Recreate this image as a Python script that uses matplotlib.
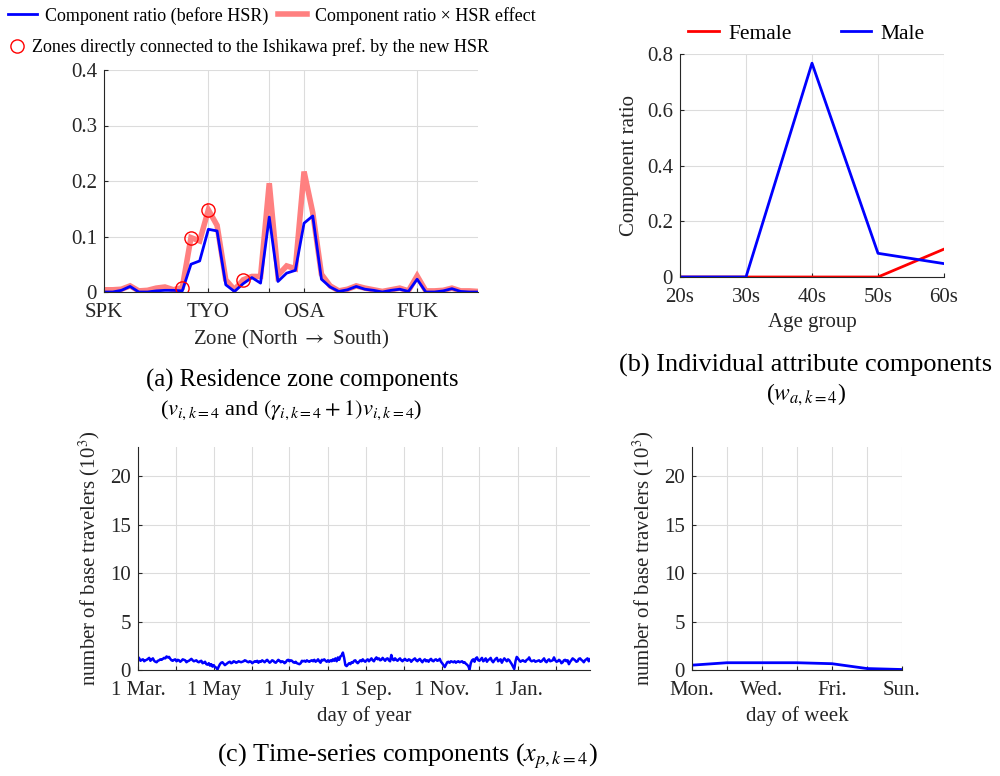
import numpy as np
import matplotlib
matplotlib.use("Agg")
import matplotlib.pyplot as plt
from matplotlib.lines import Line2D

plt.rcParams["font.family"] = ["Liberation Serif", "DejaVu Serif"]
plt.rcParams["mathtext.fontset"] = "stix"
plt.rcParams["font.size"] = 15

TEXT = "#262626"
GRID = "#dcdcdc"
BLUE = "#0000ff"
PINK = "#ff8080"
RED = "#ff0000"
FS = 15
LEG_FS = 13

# (a) residence zone components, 44 zones north -> south
zone_ticks = [1, 13, 20, 24, 37]
zone_labels = ["SPK", "TYO", "", "OSA", "FUK"]
ratio_before = [0.0, 0.0, 0.003, 0.010, 0.0, 0.0, 0.002, 0.003, 0.003, 0.002,
                0.050, 0.056, 0.113, 0.110, 0.013, 0.001, 0.015, 0.026, 0.016, 0.135,
                0.019, 0.034, 0.039, 0.124, 0.137, 0.023, 0.009, 0.001, 0.004, 0.010,
                0.005, 0.003, 0.0, 0.003, 0.005, 0.001, 0.023, 0.0, 0.0, 0.002,
                0.006, 0.001, 0.0, 0.0]
ratio_hsr = [0.004, 0.004, 0.005, 0.011, 0.002, 0.003, 0.007, 0.009, 0.004, 0.008,
             0.098, 0.092, 0.148, 0.120, 0.022, 0.004, 0.022, 0.028, 0.028, 0.196,
             0.030, 0.047, 0.042, 0.217, 0.143, 0.032, 0.011, 0.002, 0.005, 0.011,
             0.007, 0.004, 0.001, 0.004, 0.007, 0.002, 0.029, 0.002, 0.002, 0.003,
             0.007, 0.002, 0.002, 0.001]
connected_zones = [10, 11, 13, 17]

# (b) individual attribute components
age_groups = ["20s", "30s", "40s", "50s", "60s"]
female = [0.0, 0.0, 0.0, 0.0, 0.100]
male = [0.0, 0.0, 0.767, 0.085, 0.048]

# (c) time-series components, daily from 1 Mar (thousands)
daily = [
    1.35, 1.2, 0.95, 1.05, 1.1, 0.9, 1.0,
    1.05, 1.15, 1.25, 0.95, 1.1, 1.2, 0.95,
    0.85, 0.8, 0.95, 1.0, 1.1, 1.05, 1.15,
    1.25, 1.2, 1.4, 1.3, 1.35, 1.15, 1.0,
    0.95, 1.05, 1.1, 0.9, 1.05, 1.0, 0.85,
    0.95, 1.1, 1.05, 1.0, 0.8, 0.9, 0.95,
    1.05, 1.15, 1.0, 0.9, 0.95, 1.0, 0.85,
    0.8, 0.9, 0.95, 0.7, 0.75, 0.85, 0.6,
    0.55, 0.7, 0.45, 0.6, 0.35, 0.5, 0.3,
    0.25, 0.05, 0.35, 0.6, 0.75, 0.8, 0.65,
    0.5, 0.6, 0.7, 0.8, 0.85, 0.7, 0.75,
    0.9, 0.85, 0.75, 0.8, 0.9, 0.85, 0.8,
    0.85, 0.9, 1.0, 0.95, 0.85, 0.8, 0.9,
    0.85, 0.7, 0.8, 0.9, 0.85, 0.95, 0.75,
    0.9, 0.85, 1.0, 0.9, 0.8, 0.95, 1.05,
    0.9, 0.75, 0.85, 1.0, 0.95, 0.8, 0.75,
    0.9, 1.05, 0.95, 0.8, 0.9, 0.85, 0.7,
    0.8, 1.0, 1.05, 0.9, 1.0, 0.95, 0.8,
    0.75, 0.85, 0.7, 0.65, 0.6, 0.7, 0.95,
    0.9, 0.95, 0.85, 1.0, 0.9, 0.85, 0.95,
    1.0, 0.9, 1.05, 0.85, 0.95, 1.1, 0.9,
    0.75, 1.05, 1.0, 1.1, 0.95, 0.85, 1.0,
    0.85, 1.0, 0.9, 1.1, 0.95, 1.2, 0.9,
    1.3, 1.05, 1.4, 1.5, 1.8, 1.25, 0.5,
    0.4, 0.55, 0.7, 0.6, 0.8, 0.75, 0.95,
    1.0, 0.8, 0.7, 0.85, 1.0, 0.9, 1.1,
    0.95, 0.85, 1.0, 1.1, 0.9, 1.05, 1.2,
    1.0, 0.9, 1.15, 1.3, 1.1, 1.2, 1.0,
    1.05, 1.25, 1.1, 0.95, 1.15, 1.2, 1.0,
    0.9, 1.55, 1.1, 1.0, 1.2, 1.05, 0.95,
    1.1, 1.2, 1.0, 0.9, 1.05, 1.15, 1.0,
    0.95, 1.1, 1.05, 0.85, 1.0, 1.1, 1.2,
    1.0, 0.9, 1.05, 1.15, 0.95, 0.8, 1.0,
    1.1, 0.9, 1.0, 0.85, 1.05, 1.15, 0.95,
    0.9, 1.05, 1.1, 0.95, 1.0, 1.15, 0.85,
    0.7, 0.5, 0.3, 0.55, 0.8, 0.85, 0.75,
    0.9, 0.85, 0.8, 0.9, 0.75, 0.85, 0.9,
    0.8, 0.85, 0.9, 0.75, 0.8, 0.65, 0.55,
    0.4, 0.05, 0.7, 1.0, 1.1, 0.85, 1.2,
    1.3, 1.0, 0.95, 1.1, 1.25, 0.9, 1.0,
    1.2, 0.85, 1.05, 1.1, 1.25, 0.95, 0.8,
    1.0, 1.15, 1.25, 0.9, 1.0, 1.1, 0.75,
    1.0, 1.2, 1.05, 0.9, 1.1, 1.0, 0.8,
    0.6, 0.35, 0.1, 0.9, 1.35, 1.2, 1.0,
    0.85, 0.95, 1.0, 0.9, 0.85, 1.05, 1.1,
    1.3, 1.0, 0.9, 0.95, 1.0, 0.85, 0.9,
    0.95, 1.0, 0.85, 0.9, 1.05, 1.2, 0.9,
    0.8, 1.0, 1.1, 0.9, 0.95, 1.0, 1.3,
    1.0, 0.85, 0.9, 1.05, 0.95, 0.7, 0.8,
    1.0, 1.05, 0.9, 1.0, 0.6, 0.85, 1.0,
    1.2, 1.1, 1.0, 0.85, 0.9, 1.15, 1.2,
    1.05, 0.95, 0.8, 1.0, 1.1, 1.2, 0.9,
    1.1,
]
month_starts = [1, 32, 62, 93, 123, 154, 185, 215, 246, 276, 307, 338]
month_labels = ["1 Mar.", "", "1 May", "", "1 July", "", "1 Sep.", "", "1 Nov.", "", "1 Jan.", ""]
weekdays = ["Mon.", "", "Wed.", "", "Fri.", "", "Sun."]
weekly = [0.5, 0.75, 0.75, 0.75, 0.65, 0.15, 0.05]


def style(ax):
    ax.grid(True, color=GRID, linewidth=0.8)
    ax.set_axisbelow(True)
    for s in ("top", "right"):
        ax.spines[s].set_visible(False)
    for s in ("left", "bottom"):
        ax.spines[s].set_color(TEXT)
        ax.spines[s].set_linewidth(0.8)
    ax.tick_params(direction="in", length=3, colors=TEXT, labelsize=FS)
    ax.tick_params(axis="x", pad=8)
    ax.tick_params(axis="y", pad=5)


fig = plt.figure(figsize=(10, 7.76), dpi=100)

def px_axes(l, t, r, b):
    return fig.add_axes([l / 1000, 1 - b / 776, (r - l) / 1000, (b - t) / 776])

# ---- (a)
ax = px_axes(104, 70, 478, 292)
style(ax)
zones = np.arange(1, len(ratio_before) + 1)
ax.plot(zones, ratio_hsr, color=PINK, linewidth=4, solid_joinstyle="miter")
ax.plot(zones, ratio_before, color=BLUE, linewidth=2)
ax.plot(connected_zones, [ratio_hsr[i - 1] for i in connected_zones], "o",
        mfc="none", mec=RED, ms=9.5, mew=1)
ax.set_xlim(1, len(zones))
ax.set_ylim(0, 0.4)
ax.set_yticks([0, 0.1, 0.2, 0.3, 0.4])
ax.set_yticklabels(["0", "0.1", "0.2", "0.3", "0.4"])
ax.set_xticks(zone_ticks)
ax.set_xticklabels(zone_labels)
ax.set_xlabel(r"Zone (North $\rightarrow$ South)", fontsize=FS, color=TEXT, labelpad=4)

h1 = Line2D([], [], color=BLUE, linewidth=2)
h2 = Line2D([], [], color=PINK, linewidth=4)
h3 = Line2D([], [], color=RED, marker="o", mfc="none", ms=9.5, linestyle="none")
fig.legend([h1, h2], ["Component ratio (before HSR)", "Component ratio \u00d7 HSR effect"],
           loc="upper left", bbox_to_anchor=(-0.008, 1.012), ncol=2, frameon=False,
           fontsize=LEG_FS, handlelength=1.6, handletextpad=0.45, columnspacing=0.5)
fig.legend([h3], ["Zones directly connected to the Ishikawa pref. by the new HSR"],
           loc="upper left", bbox_to_anchor=(-0.01, 0.972), frameon=False,
           fontsize=LEG_FS, handlelength=1.2, handletextpad=0.2)

fig.text(0.302, 1 - 380 / 776, "(a) Residence zone components", ha="center", va="center",
         fontsize=17.7, color="black")
fig.text(0.291, 1 - 410 / 776, r"($v_{i,k{=}4}$ and $(\gamma_{i,k{=}4}+1)v_{i,k{=}4}$)",
         ha="center", va="center", fontsize=16.2, color="black")

# ---- (b)
ax = px_axes(680, 54, 944, 277)
style(ax)
ages = np.arange(1, len(age_groups) + 1)
ax.plot(ages, female, color=RED, linewidth=2, label="Female")
ax.plot(ages, male, color=BLUE, linewidth=2, label="Male")
ax.set_xlim(1, 5)
ax.set_ylim(0, 0.8)
ax.set_xticks(ages)
ax.set_xticklabels(age_groups)
ax.set_yticks([0, 0.2, 0.4, 0.6, 0.8])
ax.set_yticklabels(["0", "0.2", "0.4", "0.6", "0.8"])
ax.set_xlabel("Age group", fontsize=FS, color=TEXT, labelpad=4)
ax.set_ylabel("Component ratio", fontsize=FS, color=TEXT, labelpad=6)
ax.legend(loc="lower center", bbox_to_anchor=(0.48, 0.96), ncol=2, frameon=False,
          fontsize=15.5, handlelength=1.4, handletextpad=0.45, columnspacing=2.3)

fig.text(0.806, 1 - 365 / 776, "(b) Individual attribute components", ha="center",
         va="center", fontsize=18.9, color="black")
fig.text(0.806, 1 - 395 / 776, r"($w_{a,k{=}4}$)", ha="center", va="center",
         fontsize=17, color="black")

# ---- (c) day of year
ax = px_axes(138, 447, 590, 670)
style(ax)
days = np.arange(1, len(daily) + 1)
ax.plot(days, daily, color=BLUE, linewidth=1.8)
ax.set_xlim(1, len(daily))
ax.set_ylim(0, 23)
ax.set_yticks([0, 5, 10, 15, 20])
ax.set_xticks(month_starts)
ax.set_xticklabels(month_labels)
ax.set_xlabel("day of year", fontsize=FS, color=TEXT, labelpad=4)
ax.set_ylabel(r"number of base travelers (10$^3$)", fontsize=FS, color=TEXT, labelpad=6)

# ---- (c) day of week
ax = px_axes(692, 447, 902, 670)
style(ax)
wd = np.arange(1, len(weekly) + 1)
ax.plot(wd, weekly, color=BLUE, linewidth=2)
ax.set_xlim(1, 7)
ax.set_ylim(0, 23)
ax.set_yticks([0, 5, 10, 15, 20])
ax.set_xticks(wd)
ax.set_xticklabels(weekdays)
ax.set_xlabel("day of week", fontsize=FS, color=TEXT, labelpad=4)
ax.set_ylabel(r"number of base travelers (10$^3$)", fontsize=FS, color=TEXT, labelpad=6)

fig.text(0.407, 1 - 756 / 776, r"(c) Time-series components ($x_{p,k{=}4}$)", ha="center",
         va="center", fontsize=18.8, color="black")

fig.savefig("out.png", dpi=100, facecolor="white")
